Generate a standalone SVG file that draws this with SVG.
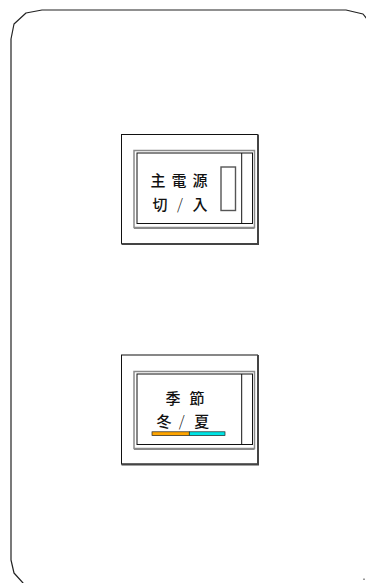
<svg xmlns="http://www.w3.org/2000/svg" width="366" height="583" viewBox="0 0 366 583">
<style>
.outline{fill:none;stroke:#222;stroke-width:1.2;stroke-linejoin:round}
.frame{fill:#fff;stroke:#111;stroke-width:1}
.shadow{fill:none;stroke:#444;stroke-width:2}
.bevel{fill:none;stroke:#8a8a8a;stroke-width:1.5}
.bevelb{fill:none;stroke:#8a8a8a;stroke-width:2.2}
.inner{fill:none;stroke:#111;stroke-width:1}
.ind{fill:none;stroke:#555;stroke-width:1.4}
.lbl{font-family:"Noto Sans CJK JP","Noto Sans CJK SC",sans-serif;font-size:15px;font-weight:500;fill:#111;text-anchor:middle}
.sl{font-weight:300}
</style>
<rect width="366" height="583" fill="#fff"/>
<g id="panel">
<polyline class="outline" points="367,19 363,14 346,10 42,10 26,13 14,24 11,39 11,560 14,573 23,583 25,586"/>
<line x1="364" y1="578.5" x2="364" y2="580" stroke="#333" stroke-width="1"/>
</g>
<g id="switch-power">
<rect class="frame" x="121.5" y="134.5" width="136" height="109"/>
<polyline class="shadow" points="121.5,244 258,244 258,134.5"/>
<rect class="bevel" x="134" y="150.5" width="120.5" height="77"/>
<line class="bevelb" x1="134" y1="228" x2="254.5" y2="228"/>
<rect class="inner" x="137" y="153" width="115.5" height="70.5"/>
<line class="inner" x1="241.7" y1="153" x2="241.7" y2="223.5"/>
<rect class="ind" x="221" y="167" width="14.5" height="43.5"/>
<text class="lbl" x="158 179 200" y="186">主電源</text>
<text class="lbl" x="160 180 200" y="210">切<tspan class="sl">/</tspan>入</text>
</g>
<g id="switch-season">
<rect class="frame" x="121.5" y="355" width="136" height="109"/>
<polyline class="shadow" points="121.5,464.5 258,464.5 258,355"/>
<rect class="bevel" x="134" y="371.5" width="120.5" height="77"/>
<line class="bevelb" x1="134" y1="449" x2="254.5" y2="449"/>
<rect class="inner" x="137" y="374" width="115.5" height="70.5"/>
<line class="inner" x1="241.7" y1="374" x2="241.7" y2="444.5"/>
<text class="lbl" x="173 197" y="404">季節</text>
<text class="lbl" x="164 181.7 201.7" y="427">冬<tspan class="sl">/</tspan>夏</text>
<rect x="152" y="431.8" width="37.3" height="3.8" fill="#ffa500" stroke="#222" stroke-width="0.7"/>
<rect x="189.3" y="431.8" width="35.7" height="3.8" fill="#00e5e5" stroke="#222" stroke-width="0.7"/>
</g>
</svg>
